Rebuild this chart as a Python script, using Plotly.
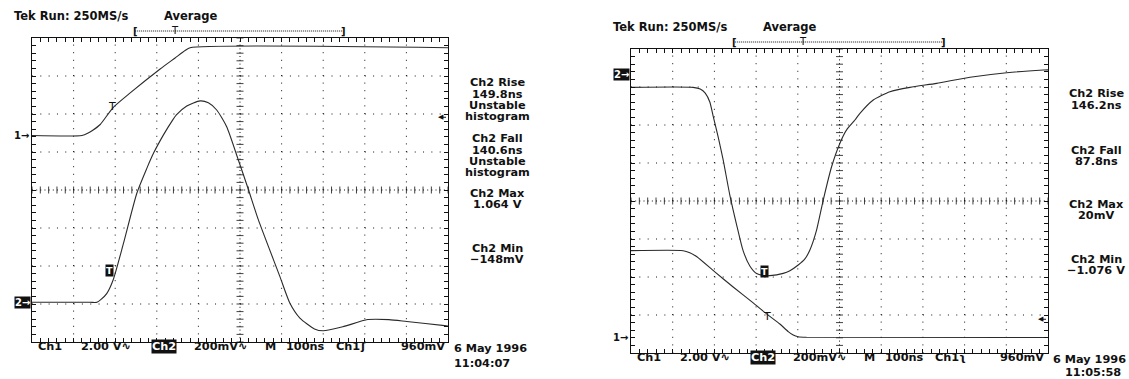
import numpy as np
import plotly.graph_objects as go

W, H = 1129, 379
FONT = "DejaVu Sans"
INK = "#111111"
TRACE = "#2a2a2a"

NS_PER_DIV = 100
H_DIVS = 10
V_DIVS = 8
SUB_DIVS = 5
CH1_V_PER_DIV = 2.0
CH2_V_PER_DIV = 0.2
TRIG_LEVEL_V = 0.96

# ---------------- left capture (6 May 1996 11:04:07) ----------------
L_CH1_T = [0, 120, 135, 147, 164, 195, 236, 308, 344, 368, 380, 1000]
L_CH1_V = [0.0, 0.0, 0.13, 0.29, 0.58, 1.47, 2.24, 3.50, 4.08, 4.47, 4.62, 4.62]
L_CH2_T = [0, 139, 156, 166, 180, 195, 220, 252, 276, 292, 316, 338, 347, 372, 404,
           424, 444, 468, 496, 520, 544, 596, 620, 644, 679, 700, 747, 807, 858, 901, 992, 1000]
L_CH2_V = [0, 0, 0, 0.015, 0.047, 0.117, 0.311, 0.574, 0.705, 0.784, 0.881, 0.959, 0.986, 1.033, 1.06,
           1.05, 1.012, 0.924, 0.749, 0.595, 0.435, 0.135, -0.005, -0.083, -0.140, -0.150, -0.129,
           -0.091, -0.091, -0.101, -0.123, -0.125]
L_CH1_POS = 1.434      # ground marker position, divisions from centre
L_CH2_POS = -2.955
L_TRIG_NS = 193
L_RECORD_NS = [248, 748]
L_RECORD_TRIG_NS = 344
L_MEAS = [["Ch2 Rise", "149.8ns", "Unstable", "histogram"],
          ["Ch2 Fall", "140.6ns", "Unstable", "histogram"],
          ["Ch2 Max", "1.064 V"],
          ["Ch2 Min", "\u2212148mV"]]
L_SLOPE = "\u0283"
L_DATE = ["6 May 1996", "11:04:07"]

# ---------------- right capture (6 May 1996 11:05:58) ----------------
R_CH1_T = [0, 125, 141, 158, 201, 245, 293, 329, 357, 377, 389, 401, 421, 1000]
R_CH1_V = [4.57, 4.57, 4.46, 4.25, 3.45, 2.66, 1.82, 1.18, 0.71, 0.31, 0.13, 0.04, 0.01, 0.0]
R_CH2_T = [0, 149, 166, 178, 189, 197, 209, 221, 237, 254, 269, 285, 301, 317, 333, 365, 381,
           401, 417, 429, 445, 461, 481, 501, 517, 537, 549, 581, 621, 669, 733, 813, 901, 989, 1000]
R_CH2_V = [-0.065, -0.065, -0.074, -0.095, -0.142, -0.216, -0.326, -0.447, -0.632, -0.795, -0.926,
           -1.005, -1.045, -1.055, -1.056, -1.044, -1.030, -1.000, -0.968, -0.921, -0.816, -0.658,
           -0.483, -0.359, -0.289, -0.237, -0.202, -0.132, -0.088, -0.065, -0.044, -0.012, 0.012,
           0.026, 0.027]
R_CH1_POS = -3.592
R_CH2_POS = 3.316
R_TRIG_NS = 327
R_RECORD_NS = [249, 749]
R_RECORD_TRIG_NS = 413
R_MEAS = [["Ch2 Rise", "146.2ns"],
          ["Ch2 Fall", "87.8ns"],
          ["Ch2 Max", "20mV"],
          ["Ch2 Min", "\u22121.076 V"]]
R_SLOPE = "\u0285"
R_DATE = ["6 May 1996", "11:05:58"]

HEADER = ["Tek", "Run: 250MS/s", "Average"]
BOTTOM = ["Ch1", "2.00 V\u223f", "Ch2", "200mV\u223f", "M", "100ns", "Ch1", None, "960mV"]

# layout (pixel frames of the two screens)
L_FRAME = (32, 38, 448, 342)
R_FRAME = (631, 49, 1048, 353)


def X(p):
    return p / W


def Y(p):
    return 1 - p / H


fig = go.Figure()
shapes, annotations = [], []
XMAX = NS_PER_DIV * H_DIVS
YMAX = V_DIVS / 2


def txt(text, x, y, xref="paper", yref="paper", xanchor="left", yanchor="middle",
        size=11.5, color=INK, bg=None, xshift=0, yshift=0, bold=True):
    d = dict(text=(f"<b>{text}</b>" if bold else text), x=x, y=y, xref=xref, yref=yref,
             xanchor=xanchor, yanchor=yanchor, showarrow=False,
             font=dict(family=FONT, size=size, color=color), xshift=xshift, yshift=yshift)
    if bg:
        d.update(bgcolor=bg, borderpad=0)
    annotations.append(d)


def panel(idx, frame, ch1_t, ch1_v, ch2_t, ch2_v, ch1_pos, ch2_pos, trig_ns,
          rec, rec_trig, meas, slope, date, date_dx, tbox_shift, ch1t_shift):
    fl, ft, fr, fb = frame
    sfx = "" if idx == 1 else str(idx)
    xr, yr = "x" + sfx, "y" + sfx
    ax_common = dict(showline=True, linecolor=INK, linewidth=1, mirror="ticks", ticks="inside",
                     ticklen=4, tickcolor=INK, tickwidth=1, showticklabels=False,
                     showgrid=False, zeroline=False, fixedrange=True)
    fig.update_layout(**{
        "xaxis" + sfx: dict(ax_common, range=[0, XMAX], domain=[X(fl), X(fr)], tick0=0,
                            dtick=NS_PER_DIV / SUB_DIVS, anchor=yr),
        "yaxis" + sfx: dict(ax_common, range=[-YMAX, YMAX], domain=[Y(fb), Y(ft)], tick0=0,
                            dtick=1 / SUB_DIVS, anchor=xr),
    })
    hdx = (fr - fl) / H_DIVS / SUB_DIVS
    vdy = (fb - ft) / V_DIVS / SUB_DIVS
    # graticule
    for k in range(1, H_DIVS):
        xv = k * NS_PER_DIV
        dash = f"1px,{vdy/2-1:.2f}px" if k == H_DIVS // 2 else f"1px,{vdy-1:.2f}px"
        shapes.append(dict(type="line", xref=xr, yref=yr, x0=xv, x1=xv, y0=-YMAX, y1=YMAX,
                           layer="below", line=dict(color=INK, width=1, dash=dash)))
    for k in range(1, V_DIVS):
        yv = k - YMAX
        dash = f"1px,{hdx/2-1:.2f}px" if k == V_DIVS // 2 else f"1px,{hdx-1:.2f}px"
        shapes.append(dict(type="line", xref=xr, yref=yr, y0=yv, y1=yv, x0=0, x1=XMAX,
                           layer="below", line=dict(color=INK, width=1, dash=dash)))
    tx = np.arange(0, XMAX + 1, NS_PER_DIV / SUB_DIVS)
    fig.add_trace(go.Scatter(x=tx, y=np.zeros_like(tx), mode="markers", xaxis=xr, yaxis=yr,
                             marker=dict(symbol="line-ns", size=5, line=dict(width=0.8, color=INK)),
                             hoverinfo="skip"))
    ty = np.arange(-YMAX, YMAX + 0.01, 1 / SUB_DIVS)
    fig.add_trace(go.Scatter(x=np.full_like(ty, XMAX / 2), y=ty, mode="markers", xaxis=xr, yaxis=yr,
                             marker=dict(symbol="line-ew", size=5, line=dict(width=0.8, color=INK)),
                             hoverinfo="skip"))
    # waveforms
    y1 = ch1_pos + np.asarray(ch1_v) / CH1_V_PER_DIV
    y2 = ch2_pos + np.asarray(ch2_v) / CH2_V_PER_DIV
    for t, yy in ((ch1_t, y1), (ch2_t, y2)):
        fig.add_trace(go.Scatter(x=t, y=yy, mode="lines", xaxis=xr, yaxis=yr, hoverinfo="skip",
                                 line=dict(color=TRACE, width=1.1, shape="spline", smoothing=0.6)))
    # trigger markers on the traces
    t1 = float(np.interp(trig_ns, ch1_t, y1))
    t2 = float(np.interp(trig_ns, ch2_t, y2))
    txt("T", trig_ns, t1, xref=xr, yref=yr, xanchor="center", size=11, yshift=ch1t_shift, bold=False)
    txt("T", trig_ns, t2, xref=xr, yref=yr, xanchor="center", size=9.5, color="white", bg=INK,
        xshift=-3, yshift=tbox_shift)
    # ground markers
    txt("1\u2192", X(fl - 1), ch1_pos, yref=yr, xanchor="right", size=10)
    txt("2\u2192", X(fl - 1), ch2_pos, yref=yr, xanchor="right", size=10, color="white", bg=INK)
    # trigger level arrow
    lv = ch1_pos + TRIG_LEVEL_V / CH1_V_PER_DIV
    txt("\u25c0", X(fr - 7), lv, yref=yr, xanchor="center", size=7, bold=False)
    shapes.append(dict(type="line", xref="paper", yref=yr, x0=X(fr - 7), x1=X(fr - 2), y0=lv, y1=lv,
                       line=dict(color=INK, width=1)))
    # header
    txt(HEADER[0] + " " + HEADER[1], X(fl - 20), Y(ft - 22), size=11.5)
    txt(HEADER[2], X(fl + 130), Y(ft - 22), size=11.5)
    by = Y(ft - 7)
    shapes.append(dict(type="line", xref=xr, yref="paper", x0=rec[0], x1=rec[1], y0=by, y1=by,
                       line=dict(color=INK, width=1, dash="1px,1px")))
    txt("[", rec[0], by, xref=xr, xanchor="center", size=10)
    txt("]", rec[1], by, xref=xr, xanchor="center", size=10)
    txt("T", rec_trig, by, xref=xr, xanchor="center", size=10, bold=False, yshift=1)
    # measurement column
    for blk, y0 in zip(meas, [45, 101, 155, 210.5]):
        for j, line in enumerate(blk):
            txt(line, X(fl + 465), Y(ft + y0 + j * 11.3), xanchor="center", size=11.3)
    # bottom status line
    offs = [4, 47, 119, 160, 231, 252, 302, 326, 367]
    labels = list(BOTTOM)
    labels[7] = slope
    for lab, o in zip(labels, offs):
        hi = lab == "Ch2"
        txt(lab, X(fl + o), Y(fb + 4.5), size=11.3,
            color="white" if hi else INK, bg=INK if hi else None)
    txt(date[0], X(fr + date_dx[0]), Y(fb + 6.5), size=11.3)
    txt(date[1], X(fr + date_dx[1]), Y(min(fb + 21, H - 6.5)), size=11.3)


panel(1, L_FRAME, L_CH1_T, L_CH1_V, L_CH2_T, L_CH2_V, L_CH1_POS, L_CH2_POS, L_TRIG_NS,
      L_RECORD_NS, L_RECORD_TRIG_NS, L_MEAS, L_SLOPE, L_DATE, (4, 4), 11, 2)
panel(2, R_FRAME, R_CH1_T, R_CH1_V, R_CH2_T, R_CH2_V, R_CH1_POS, R_CH2_POS, R_TRIG_NS,
      R_RECORD_NS, R_RECORD_TRIG_NS, R_MEAS, R_SLOPE, R_DATE, (3, 15), 4, -2)

fig.update_layout(width=W, height=H, margin=dict(l=0, r=0, t=0, b=0),
                  paper_bgcolor="white", plot_bgcolor="white", showlegend=False,
                  shapes=shapes, annotations=annotations)
fig.write_html("out.html", config={"displayModeBar": False, "staticPlot": True},
               post_script="document.body.style.margin='0px';")
